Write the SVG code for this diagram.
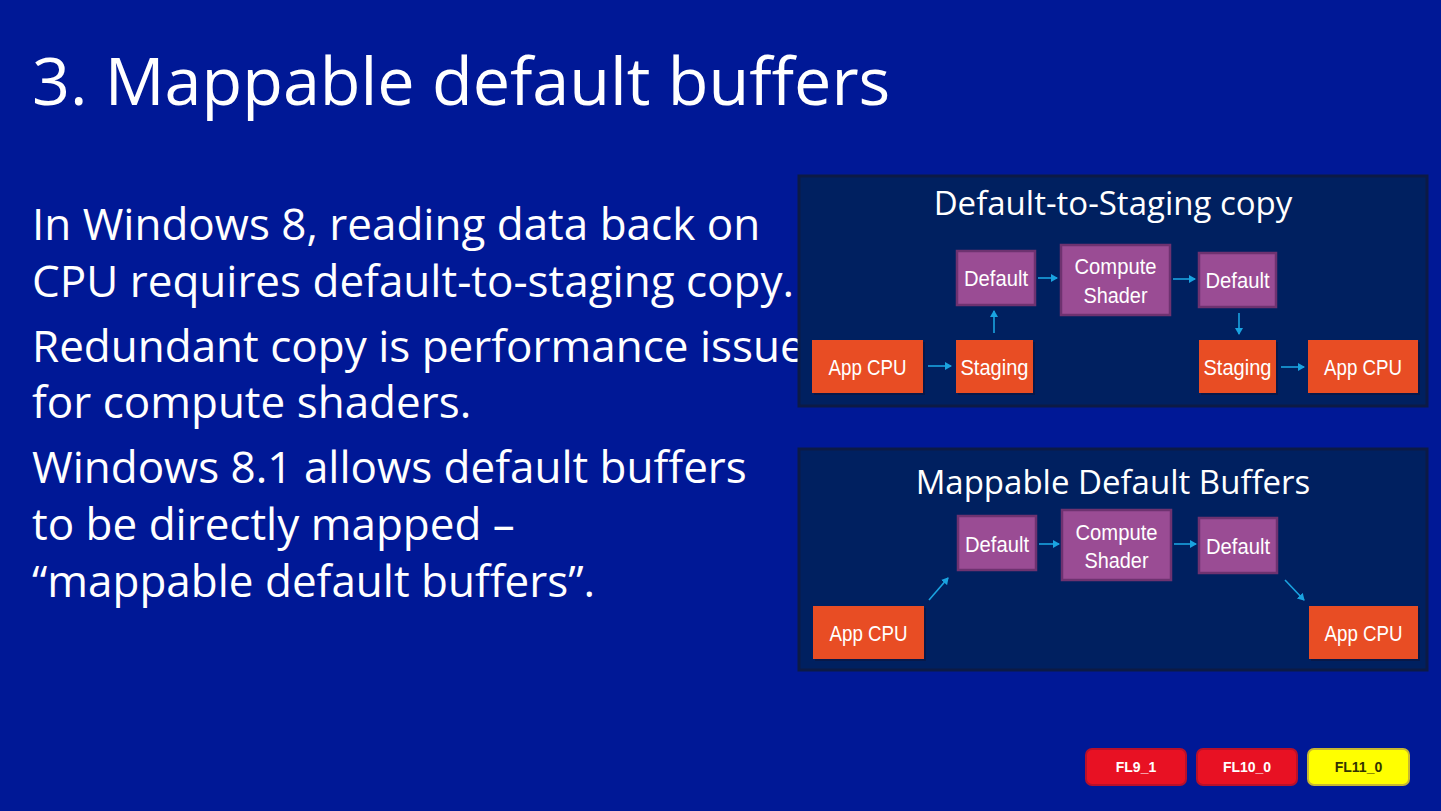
<svg xmlns="http://www.w3.org/2000/svg" width="1441" height="811" viewBox="0 0 1441 811">
<defs>
<style>
.body{font-family:"Open Sans","Noto Sans",sans-serif;font-size:44px;fill:#ffffff}
.title{font-family:"Open Sans","Noto Sans",sans-serif;font-size:66.5px;fill:#ffffff}
.ptitle{font-family:"Open Sans","Noto Sans",sans-serif;font-size:33px;fill:#ffffff;text-anchor:middle}
.panel{fill:#002060;stroke:#0c1a45;stroke-width:3}
.pur{fill:#9a4c94;stroke:#6e3270;stroke-width:2.5}
.org{fill:#e84d24}
.shadow{fill:#0a1640;opacity:0.7}
.lbl{font-family:"Liberation Sans",sans-serif;font-size:22px;fill:#ffffff;text-anchor:middle}
.arr{stroke:#1aa3e0;stroke-width:1.6;fill:none;marker-end:url(#ah)}
.badge{font-family:"Liberation Sans","DejaVu Sans",sans-serif;font-size:14px;font-weight:bold;text-anchor:middle}
</style>
<marker id="ah" markerWidth="8" markerHeight="8" refX="6" refY="4" orient="auto" markerUnits="userSpaceOnUse">
<path d="M0,0 L7,4 L0,8 Z" fill="#1aa3e0"/>
</marker>
</defs>
<rect x="0" y="0" width="1441" height="811" fill="#001896"/>
<text class="title" x="32" y="105">3. Mappable default buffers</text>
<g id="bodytext">
<text class="body" x="32" y="240">In Windows 8, reading data back on</text>
<text class="body" x="32" y="297">CPU requires default-to-staging copy.</text>
<text class="body" x="32" y="362">Redundant copy is performance issue</text>
<text class="body" x="32" y="418">for compute shaders.</text>
<text class="body" x="32" y="483">Windows 8.1 allows default buffers</text>
<text class="body" x="32" y="540">to be directly mapped –</text>
<text class="body" x="32" y="597">“mappable default buffers”.</text>
</g>
<g id="panel1">
<rect class="panel" x="799" y="176" width="628" height="230"/>
<text class="ptitle" x="1113" y="215">Default-to-Staging copy</text>
</g>
<g id="p1-default1"><rect class="pur" x="957" y="251" width="78" height="54"/><text class="lbl" x="996" y="286" textLength="64" lengthAdjust="spacingAndGlyphs">Default</text></g>
<g id="p1-compute"><rect class="pur" x="1061" y="245" width="109" height="70"/><text class="lbl" x="1115.5" y="274" textLength="82" lengthAdjust="spacingAndGlyphs">Compute</text><text class="lbl" x="1115.5" y="303" textLength="64" lengthAdjust="spacingAndGlyphs">Shader</text></g>
<g id="p1-default2"><rect class="pur" x="1199" y="253" width="77" height="54"/><text class="lbl" x="1237.5" y="288" textLength="64" lengthAdjust="spacingAndGlyphs">Default</text></g>
<g id="p1-appcpu1"><rect class="shadow" x="814" y="342" width="111" height="53"/><rect class="org" x="812" y="340" width="111" height="53"/><text class="lbl" x="867.5" y="375" textLength="78" lengthAdjust="spacingAndGlyphs">App CPU</text></g>
<g id="p1-staging1"><rect class="shadow" x="958" y="342" width="77" height="53"/><rect class="org" x="956" y="340" width="77" height="53"/><text class="lbl" x="994.5" y="375" textLength="68" lengthAdjust="spacingAndGlyphs">Staging</text></g>
<g id="p1-staging2"><rect class="shadow" x="1201" y="342" width="77" height="53"/><rect class="org" x="1199" y="340" width="77" height="53"/><text class="lbl" x="1237.5" y="375" textLength="68" lengthAdjust="spacingAndGlyphs">Staging</text></g>
<g id="p1-appcpu2"><rect class="shadow" x="1310" y="342" width="110" height="53"/><rect class="org" x="1308" y="340" width="110" height="53"/><text class="lbl" x="1363" y="375" textLength="78" lengthAdjust="spacingAndGlyphs">App CPU</text></g>
<g id="panel2">
<rect class="panel" x="799" y="449" width="628" height="221"/>
<text class="ptitle" x="1113" y="494">Mappable Default Buffers</text>
</g>
<g id="p2-default1"><rect class="pur" x="958" y="516" width="78" height="54"/><text class="lbl" x="997" y="552" textLength="64" lengthAdjust="spacingAndGlyphs">Default</text></g>
<g id="p2-compute"><rect class="pur" x="1062" y="510" width="109" height="70"/><text class="lbl" x="1116.5" y="540" textLength="82" lengthAdjust="spacingAndGlyphs">Compute</text><text class="lbl" x="1116.5" y="568" textLength="64" lengthAdjust="spacingAndGlyphs">Shader</text></g>
<g id="p2-default2"><rect class="pur" x="1199" y="518" width="78" height="55"/><text class="lbl" x="1238" y="554" textLength="64" lengthAdjust="spacingAndGlyphs">Default</text></g>
<g id="p2-appcpu1"><rect class="shadow" x="815" y="608" width="111" height="53"/><rect class="org" x="813" y="606" width="111" height="53"/><text class="lbl" x="868.5" y="641" textLength="78" lengthAdjust="spacingAndGlyphs">App CPU</text></g>
<g id="p2-appcpu2"><rect class="shadow" x="1311" y="608" width="109" height="53"/><rect class="org" x="1309" y="606" width="109" height="53"/><text class="lbl" x="1363.5" y="641" textLength="78" lengthAdjust="spacingAndGlyphs">App CPU</text></g>
<g id="connectors">
<line class="arr" x1="928" y1="366" x2="951" y2="366"/>
<line class="arr" x1="994" y1="333" x2="994" y2="311"/>
<line class="arr" x1="1038" y1="278" x2="1057" y2="278"/>
<line class="arr" x1="1173" y1="279" x2="1195" y2="279"/>
<line class="arr" x1="1239" y1="313" x2="1239" y2="334"/>
<line class="arr" x1="1281" y1="367" x2="1304" y2="367"/>
<line class="arr" x1="929" y1="600" x2="948" y2="578"/>
<line class="arr" x1="1039" y1="544" x2="1059" y2="544"/>
<line class="arr" x1="1174" y1="544" x2="1196" y2="544"/>
<line class="arr" x1="1285" y1="580" x2="1304" y2="600"/>
</g>
<g id="fl9_1"><rect x="1086" y="749" width="100" height="36" rx="6" fill="#e81123" stroke="#b8102a" stroke-width="2"/><text class="badge" x="1136" y="772" fill="#ffffff">FL9_1</text></g>
<g id="fl10_0"><rect x="1197" y="749" width="100" height="36" rx="6" fill="#e81123" stroke="#b8102a" stroke-width="2"/><text class="badge" x="1247" y="772" fill="#ffffff">FL10_0</text></g>
<g id="fl11_0"><rect x="1308" y="749" width="101" height="36" rx="6" fill="#ffff00" stroke="#c8b830" stroke-width="2"/><text class="badge" x="1358.5" y="772" fill="#333300">FL11_0</text></g>
</svg>
